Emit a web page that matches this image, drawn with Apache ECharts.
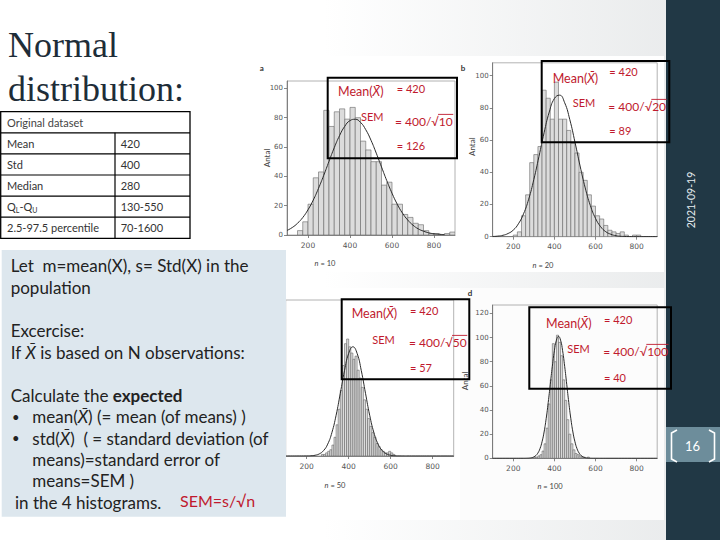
<!DOCTYPE html>
<html>
<head>
<meta charset="utf-8">
<title>Normal distribution</title>
<script src="https://cdn.jsdelivr.net/npm/echarts@6/dist/echarts.min.js"></script>
<style>
html,body{margin:0;padding:0;background:#ffffff;}
#chart{width:720px;height:540px;}
</style>
</head>
<body>
<div id="chart"></div>
<script>
// ---------------- data ----------------
const xTickValues = [200, 400, 600, 800];
const yTickValues100 = [0, 20, 40, 60, 80, 100];
const yTickValues120 = [0, 20, 40, 60, 80, 100, 120];

const sampleSizes = [10, 20, 50, 100];
const panelLetters = ['a', 'b', 'c', 'd'];
const populationMean = 420;
const populationStd = 400;
const semValues = [126, 89, 57, 40];

const tableTitle = 'Original dataset';
const tableLabels = ['Mean', 'Std', 'Median', 'QL-QU', '2.5-97.5 percentile'];
const tableValues = ['420', '400', '280', '130-550', '70-1600'];

// histogram bins: [bin start, count]
const binWidthA = 25;
const histA = [[150,3],[175,9],[200,21],[225,39],[250,43],[275,85],[300,74],[325,84],[350,86],[375,79],[400,87],[425,80],[450,64],[475,58],[500,50],[525,50],[550,34],[575,36],[600,21],[625,21],[650,14],[675,12],[700,8],[725,7],[750,3],[775,1],[800,1],[850,1],[875,2]];
const curveA = [[100,3.1],[125,5.1],[150,8.0],[175,11.9],[200,17.2],[225,23.8],[250,31.8],[275,40.7],[300,50.2],[325,59.5],[350,67.7],[375,74.1],[400,78.0],[425,78.9],[450,76.8],[475,71.8],[500,64.6],[525,55.8],[550,46.4],[575,37.1],[600,28.5],[625,21.0],[650,14.9],[675,10.2],[700,6.7],[725,4.2],[750,2.6],[775,1.5],[800,0.8],[825,0.5],[850,0.2]];

const binWidthB = 20;
const histB = [[200,1],[220,3],[240,13],[260,26],[280,46],[300,51],[320,56],[340,91],[360,86],[380,73],[400,96],[420,73],[440,73],[460,66],[480,58],[500,52],[520,40],[540,35],[560,26],[580,19],[600,13],[620,11],[640,7],[660,4],[680,3],[700,2],[720,3],[740,1],[780,1],[800,1]];
const curveB = [[100,0.14],[125,0.36],[150,0.88],[175,2.0],[200,4.1],[225,8.0],[250,14.2],[275,23.3],[300,35.5],[325,49.8],[350,64.6],[375,77.4],[400,85.8],[425,87.9],[450,83.2],[475,72.7],[500,58.8],[525,43.9],[550,30.3],[575,19.3],[600,11.4],[625,6.2],[650,3.1],[675,1.5],[700,0.6],[725,0.25],[750,0.1],[800,0],[850,0],[900,0]];

const binWidthC = 10;
const histC = [[270,1],[280,1],[290,2],[300,3],[310,4],[320,7],[330,12],[340,20],[350,30],[360,42],[370,58],[380,72],[390,75],[400,70],[410,66],[420,62],[430,64],[440,55],[450,50],[460,44],[470,36],[480,30],[490,24],[500,19],[510,15],[520,12],[530,8],[540,6],[550,4],[560,3],[570,2],[580,2],[590,3],[600,2],[610,1]];
const curveC = [[100,0],[150,0],[200,0.04],[220,0.15],[240,0.48],[260,1.36],[280,3.43],[300,7.6],[320,15.0],[340,26.1],[360,40.2],[380,54.7],[400,65.8],[420,70.0],[440,65.8],[460,54.7],[480,40.2],[500,26.1],[520,15.0],[540,7.6],[560,3.43],[580,1.36],[600,0.48],[620,0.15],[640,0.04],[700,0],[800,0],[900,0]];

const binWidthD = 10;
const histD = [[300,1],[310,1],[320,2],[330,3],[340,6],[350,12],[360,25],[370,45],[380,65],[390,95],[400,80],[410,102],[420,96],[430,85],[440,65],[450,48],[460,32],[470,20],[480,12],[490,7],[500,4],[510,3],[520,2],[530,1],[540,1],[560,1]];
const curveD = [[100,0],[200,0],[250,0.01],[270,0.09],[280,0.22],[290,0.51],[300,1.12],[310,2.30],[320,4.43],[330,8.0],[340,13.7],[350,21.8],[360,32.8],[370,46.2],[380,61.3],[390,76.2],[400,89.1],[410,97.9],[420,101],[430,97.9],[440,89.1],[450,76.2],[460,61.3],[470,46.2],[480,32.8],[490,21.8],[500,13.7],[510,8.0],[520,4.43],[530,2.30],[540,1.12],[550,0.51],[560,0.22],[570,0.09],[590,0.02],[650,0],[800,0],[900,0]];

// ---------------- layout ----------------
const SANS = 'Lato, "Noto Sans", "DejaVu Sans", sans-serif';
const SERIF = '"Liberation Serif", "DejaVu Serif", serif';
const RED = '#c01a2e';
const INK = '#222222';

const panels = [
  {bins: histA, w: binWidthA, curve: curveA, yMax: 105, yTicks: yTickValues100, showY: true,
   grid: {left: 287, top: 81, width: 168, height: 154}},
  {bins: histB, w: binWidthB, curve: curveB, yMax: 108, yTicks: yTickValues100, showY: true,
   grid: {left: 492.7, top: 62.8, width: 164.5, height: 173.9}},
  {bins: histC, w: binWidthC, curve: curveC, yMax: 100, yTicks: yTickValues100, showY: false,
   grid: {left: 285.7, top: 300, width: 168, height: 156}},
  {bins: histD, w: binWidthD, curve: curveD, yMax: 127, yTicks: yTickValues120, showY: true,
   grid: {left: 492.7, top: 305, width: 164.5, height: 153.3}}
];

const mctx = document.createElement('canvas').getContext('2d');
function textWidth(s, size, family, style, weight) {
  mctx.font = (style || 'normal') + ' ' + (weight || 'normal') + ' ' + size + 'px ' + family;
  return mctx.measureText(s).width;
}

const G = [];
function addText(x, y, text, o) {
  o = o || {};
  const st = {
    text: text, fill: o.fill || INK, fontSize: o.size || 12, fontFamily: o.family || SANS,
    fontStyle: o.italic ? 'italic' : 'normal', fontWeight: o.bold ? 'bold' : 'normal',
    align: o.align || 'left', verticalAlign: o.va || 'middle'
  };
  if (o.rich) st.rich = o.rich;
  G.push({type: 'text', x: x, y: y, rotation: o.rot || 0, z: o.z == null ? 60 : o.z, silent: true, style: st});
}
function addRect(x, y, w, h, o) {
  G.push({type: 'rect', z: o.z == null ? 10 : o.z, silent: true, shape: {x: x, y: y, width: w, height: h},
    style: {fill: o.fill || 'none', stroke: o.stroke || 'none', lineWidth: o.lw || 0}});
}
function addLine(x1, y1, x2, y2, o) {
  G.push({type: 'line', z: o.z == null ? 60 : o.z, silent: true, shape: {x1: x1, y1: y1, x2: x2, y2: y2},
    style: {stroke: o.stroke || '#000', lineWidth: o.lw || 1}});
}
function addPoly(points, o) {
  G.push({type: 'polyline', z: o.z == null ? 60 : o.z, silent: true, shape: {points: points},
    style: {stroke: o.stroke || '#000', lineWidth: o.lw || 1, fill: 'none'}});
}

// background
G.push({type: 'rect', z: -100, silent: true, shape: {x: 0, y: 0, width: 720, height: 540},
  style: {fill: {type: 'linear', x: 0, y: 0, x2: 1, y2: 0, colorStops: [
    {offset: 0, color: '#ffffff'}, {offset: 0.45, color: '#ffffff'}, {offset: 1, color: '#e7e9ea'}]}}});
// white picture areas
addRect(252, 56, 208, 216, {fill: '#ffffff', z: -50});
addRect(460, 56, 204, 216, {fill: '#ffffff', z: -50});
addRect(258, 288, 202, 232, {fill: '#ffffff', z: -50});
addRect(460, 288, 204, 232, {fill: '#fcfcfc', z: -50});

// right sidebar
addRect(666, 0, 54, 540, {fill: '#213845', z: 40});
addRect(666, 427, 54, 35, {fill: '#6d8d9b', z: 41});
addPoly([[677, 430], [671.5, 433], [671.5, 459], [677, 462]], {stroke: '#ffffff', lw: 1.6, z: 42});
addPoly([[709, 430], [714.5, 433], [714.5, 459], [709, 462]], {stroke: '#ffffff', lw: 1.6, z: 42});
addText(692.5, 446, '16', {size: 13, fill: '#ffffff', align: 'center', z: 42});
addText(691, 200, '2021-09-19', {size: 10.5, fill: '#e6edf1', align: 'center', rot: Math.PI / 2, z: 42});

// title
addText(8, 44.5, 'Normal', {size: 36, family: SERIF, fill: '#1e2d38'});
addText(8, 88.5, 'distribution:', {size: 36, family: SERIF, fill: '#1e2d38'});

// table
const tTop = 111.7, tRow = 21.1, tLeft = 0.7, tRight = 190, tMid = 115;
const TFS = 11;
addRect(tLeft, tTop, tRight - tLeft, tRow * 6, {fill: '#ffffff', stroke: '#000', lw: 1.3, z: 20});
for (let r = 1; r < 6; r++) addLine(tLeft, tTop + r * tRow, tRight, tTop + r * tRow, {lw: 1.2, z: 21});
addLine(tMid, tTop + tRow, tMid, tTop + 6 * tRow, {lw: 1.2, z: 21});
addText(7, tTop + tRow / 2, tableTitle, {size: TFS, fill: '#444'});
tableLabels.forEach(function (lab, i) {
  const cy = tTop + (i + 1.5) * tRow;
  if (lab === 'QL-QU') {
    let x = 7;
    const parts = [['Q', TFS, 0], ['L', 7, 3], ['-Q', TFS, 0], ['U', 7, 3]];
    parts.forEach(function (p) {
      addText(x, cy + p[2], p[0], {size: p[1], fill: '#333'});
      x += textWidth(p[0], p[1], SANS);
    });
  } else {
    addText(7, cy, lab, {size: TFS, fill: '#333'});
  }
  addText(120.7, cy, tableValues[i], {size: TFS, fill: '#333'});
});

// exercise text box
addRect(1.7, 250, 284.3, 266.7, {fill: '#dde7ee', z: 55});
const FS = 17;
const richT = {
  i: {fontStyle: 'italic', fontSize: FS, fontFamily: SANS, fill: INK},
  b: {fontWeight: 'bold', fontSize: FS, fontFamily: SANS, fill: INK}
};
const bodyLines = [
  [10.7, 265.5, 'Let  m=mean(X), s= Std(X) in the'],
  [10.7, 287, 'population'],
  [10.7, 330.5, 'Excercise:'],
  [10.7, 352, 'If {i|X\u0304} is based on N observations:'],
  [10.7, 395, 'Calculate the {b|expected}'],
  [32.3, 416.5, 'mean({i|X\u0304}) (= mean (of means) )'],
  [32.3, 438, 'std({i|X\u0304})  ( = standard deviation (of'],
  [32.3, 459, 'means)=standard error of'],
  [32.3, 480.5, 'means=SEM )'],
  [15, 502, 'in the 4 histograms.']
];
bodyLines.forEach(function (l) { addText(l[0], l[1], l[2], {size: FS, rich: richT, z: 60}); });
addText(12, 416.5, '\u2022', {size: 13, z: 60});
addText(12, 438, '\u2022', {size: 13, z: 60});
addText(180, 500, 'SEM=s/\u221An', {size: 16, fill: RED, z: 60});

// annotation boxes
const annBoxes = [[327.7, 77.7, 129.3, 80.6], [541.7, 61, 127.6, 81.3], [341.7, 299.3, 127.6, 80], [529.3, 307.3, 141.7, 81.4]];
const annMeanPos = [[338, 91.7], [552.7, 78.3], [351.7, 313.3], [546, 323.3]];
const annEq1Pos = [[396.7, 88.3], [609.3, 71.7], [410, 310], [604, 319.3]];
const annSemPos = [[361, 116.7], [572.7, 102.3], [372.3, 339.3], [567.3, 348.3]];
const annEq2Pos = [[395, 121.7], [608.3, 106.7], [409, 342.7], [603.3, 351.7]];
const annEq3Pos = [[396.7, 145], [609.3, 130], [410, 367.3], [604, 377.3]];
const AFS = 12;
const richR = {i: {fontStyle: 'italic', fontSize: 12.5, fontFamily: SANS, fill: RED}};
for (let k = 0; k < 4; k++) {
  const b = annBoxes[k];
  addRect(b[0], b[1], b[2], b[3], {stroke: '#000', lw: 2, z: 70});
  addText(annMeanPos[k][0], annMeanPos[k][1], 'Mean({i|X\u0304})', {size: 12.5, fill: RED, rich: richR, z: 71});
  addText(annEq1Pos[k][0], annEq1Pos[k][1], '= ' + populationMean, {size: 11, fill: RED, z: 71});
  addText(annSemPos[k][0], annSemPos[k][1], 'SEM', {size: 11, fill: RED, z: 71});
  const pre = '= ' + populationStd + '/\u221A';
  const num = String(sampleSizes[k]);
  const ex = annEq2Pos[k][0], ey = annEq2Pos[k][1];
  const w1 = textWidth(pre, AFS, SANS);
  const w2 = textWidth(num, AFS, SANS);
  addText(ex, ey, pre, {size: AFS, fill: RED, z: 71});
  addText(ex + w1, ey, num, {size: AFS, fill: RED, z: 71});
  addLine(ex + w1 - 0.8, ey - 7.3, ex + w1 + w2 + 0.5, ey - 7.3, {stroke: RED, lw: 0.9, z: 71});
  addText(annEq3Pos[k][0], annEq3Pos[k][1], '= ' + semValues[k], {size: 11, fill: RED, z: 71});
}

// panel decorations (letters, axis names, n labels)
addText(261.7, 68.3, panelLetters[0], {size: 8, fill: '#333', bold: true, align: 'center'});
addText(463, 68, panelLetters[1], {size: 8, fill: '#333', bold: true, align: 'center'});
addText(470, 293, panelLetters[3], {size: 8, fill: '#333', bold: true, align: 'center'});
addText(266.7, 158, 'Antal', {size: 8, fill: '#444', align: 'center', rot: Math.PI / 2});
addText(471.7, 146.7, 'Antal', {size: 8, fill: '#444', align: 'center', rot: Math.PI / 2});
addText(465, 381, 'Antal', {size: 8, fill: '#444', align: 'center', rot: Math.PI / 2});
const nPos = [[325, 263.3], [543, 265.7], [335, 485], [550, 486]];
nPos.forEach(function (p, k) {
  addText(p[0], p[1], '{i|n} = ' + sampleSizes[k], {size: 7.5, fill: '#444', align: 'center',
    rich: {i: {fontStyle: 'italic', fontSize: 7.5, fontFamily: SANS, fill: '#444'}}});
});

// ---------------- chart ----------------
function binRenderer(w) {
  return function (params, api) {
    const x0 = api.value(0), c = api.value(1);
    const p0 = api.coord([x0, c]);
    const p1 = api.coord([x0 + w, 0]);
    return {type: 'rect', shape: {x: p0[0], y: p0[1], width: p1[0] - p0[0], height: p1[1] - p0[1]},
      style: {fill: '#dcdcdc', stroke: '#666666', lineWidth: 0.6}};
  };
}

const AX = '#6a6a6a';
const option = {
  animation: false,
  backgroundColor: 'transparent',
  grid: panels.map(function (p) {
    return Object.assign({show: true, borderColor: '#a0a0a0', borderWidth: 0.8, backgroundColor: 'transparent',
      containLabel: false, outerBoundsMode: 'none'}, p.grid);
  }),
  xAxis: panels.map(function (p, i) {
    return {gridIndex: i, type: 'value', min: 100, max: 900,
      axisLine: {show: true, onZero: false, lineStyle: {color: AX, width: 0.8}},
      axisTick: {show: true, customValues: xTickValues, length: 3, lineStyle: {color: AX, width: 0.8}},
      axisLabel: {show: true, customValues: xTickValues, fontSize: 7.5, color: '#555', margin: 6, fontFamily: 'DejaVu Sans'},
      splitLine: {show: false}};
  }),
  yAxis: panels.map(function (p, i) {
    return {gridIndex: i, type: 'value', min: 0, max: p.yMax,
      axisLine: {show: true, onZero: false, lineStyle: {color: AX, width: 0.8}},
      axisTick: {show: p.showY, customValues: p.yTicks, length: 3, lineStyle: {color: AX, width: 0.8}},
      axisLabel: {show: p.showY, customValues: p.yTicks, fontSize: 7, color: '#555', margin: 4, fontFamily: 'DejaVu Sans'},
      splitLine: {show: false}};
  }),
  series: panels.flatMap(function (p, i) {
    return [
      {type: 'custom', xAxisIndex: i, yAxisIndex: i, data: p.bins, renderItem: binRenderer(p.w),
        encode: {x: 0, y: 1}, clip: true, silent: true, z: 2},
      {type: 'line', xAxisIndex: i, yAxisIndex: i, data: p.curve, smooth: true, showSymbol: false, symbol: 'none',
        lineStyle: {color: '#2a2a2a', width: 1}, z: 3, silent: true}
    ];
  }),
  graphic: {elements: G}
};

const chart = echarts.init(document.getElementById('chart'), null, {renderer: 'svg', width: 720, height: 540});
chart.setOption(option);
</script>
</body>
</html>
